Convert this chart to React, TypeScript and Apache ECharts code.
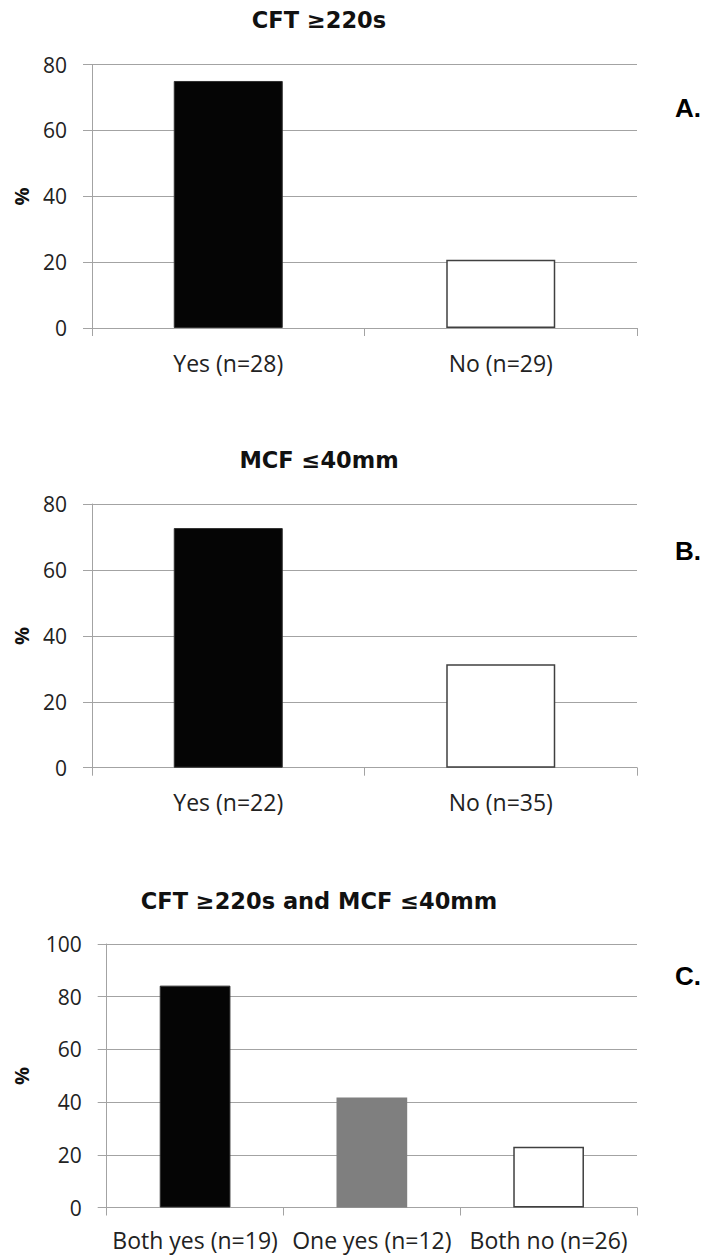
import React, { useEffect, useRef } from "react";
import * as echarts from "echarts";

const titlesText = ["CFT \u2265220s", "MCF \u226440mm", "CFT \u2265220s and MCF \u226440mm"];
const panelLetters = ["A.", "B.", "C."];

const catsA = ["Yes (n=28)", "No (n=29)"];
const valsA = [75, 20.7];
const catsB = ["Yes (n=22)", "No (n=35)"];
const valsB = [72.7, 31.4];
const catsC = ["Both yes (n=19)", "One yes (n=12)", "Both no (n=26)"];
const valsC = [84.2, 41.7, 23.1];

const yMaxes = [80, 80, 100];
const yInterval = 20;

const GRID_COLOR = "#a3a3a3";
const TEXT_COLOR = "#222222";

export default function App() {
  const ref = useRef<HTMLDivElement>(null);
  useEffect(() => {
    if (!ref.current) return;
    const chart = echarts.init(ref.current, null, { renderer: "svg" });

    const grids = [
      { left: 92, right: 72, top: 64.5, height: 263.5 },
      { left: 92, right: 72, top: 504, height: 263.7 },
      { left: 106.7, right: 72, top: 944, height: 263.5 },
    ];
    const cats = [catsA, catsB, catsC];
    const vals = [valsA, valsB, valsC];
    const labelMargins = [23, 23, 21];
    const itemStyles = [
      [
        { color: "#050505", borderColor: "#303030", borderWidth: 1 },
        { color: "#ffffff", borderColor: "#404040", borderWidth: 1.5 },
      ],
      [
        { color: "#050505", borderColor: "#303030", borderWidth: 1 },
        { color: "#ffffff", borderColor: "#404040", borderWidth: 1.5 },
      ],
      [
        { color: "#050505", borderColor: "#303030", borderWidth: 1 },
        { color: "#7f7f7f", borderColor: "#7f7f7f", borderWidth: 0 },
        { color: "#ffffff", borderColor: "#404040", borderWidth: 1.5 },
      ],
    ];
    const titleCenters = [20, 460, 901];
    const letterCenters = [108, 551, 976];

    const option: any = {
      animation: false,
      backgroundColor: "#ffffff",
      title: titlesText.map((t, i) => ({
        text: t,
        left: 319,
        top: titleCenters[i] - 12,
        textAlign: "center",
        padding: 0,
        textStyle: {
          fontFamily: "DejaVu Sans",
          fontWeight: "bold",
          fontSize: 22.5,
          lineHeight: 24,
          color: "#111111",
        },
      })),
      grid: grids,
      xAxis: cats.map((c, i) => ({
        type: "category",
        gridIndex: i,
        data: c,
        axisLine: { show: true, lineStyle: { color: GRID_COLOR, width: 1 } },
        axisTick: { show: true, length: 8, lineStyle: { color: GRID_COLOR, width: 1 } },
        axisLabel: {
          margin: labelMargins[i],
          fontFamily: "Open Sans",
          fontSize: 23,
          lineHeight: 23,
          color: TEXT_COLOR,
          interval: 0,
        },
      })),
      yAxis: yMaxes.map((m, i) => ({
        type: "value",
        gridIndex: i,
        min: 0,
        max: m,
        interval: yInterval,
        axisLine: { show: true, lineStyle: { color: GRID_COLOR, width: 1 } },
        axisTick: { show: true, length: 9, lineStyle: { color: GRID_COLOR, width: 1 } },
        splitLine: { show: true, lineStyle: { color: GRID_COLOR, width: 1 } },
        axisLabel: {
          margin: 25,
          fontFamily: "Open Sans",
          fontSize: 21,
          color: TEXT_COLOR,
        },
      })),
      series: vals.map((v, i) => ({
        type: "bar",
        xAxisIndex: i,
        yAxisIndex: i,
        barWidth: "40%",
        data: v.map((val, j) => ({ value: val, itemStyle: itemStyles[i][j] })),
      })),
      graphic: [
        ...panelLetters.map((t, i) => ({
          type: "text",
          left: 675,
          top: letterCenters[i] - 13,
          style: {
            text: t,
            fontFamily: "Liberation Sans",
            fontWeight: "bold",
            fontSize: 26,
            fill: "#000000",
          },
        })),
        ...[196.5, 636, 1076].map((cy) => ({
          type: "text",
          x: 21.7,
          y: cy,
          rotation: Math.PI / 2,
          style: {
            text: "%",
            fontFamily: "Open Sans",
            fontWeight: "bold",
            fontSize: 20,
            fill: "#111111",
            align: "center",
            verticalAlign: "middle",
          },
        })),
      ],
    };
    chart.setOption(option);
    return () => chart.dispose();
  }, []);
  return (
    <div
      ref={ref}
      style={{ position: "absolute", left: 0, top: 0, width: 709, height: 1255 }}
    />
  );
}
